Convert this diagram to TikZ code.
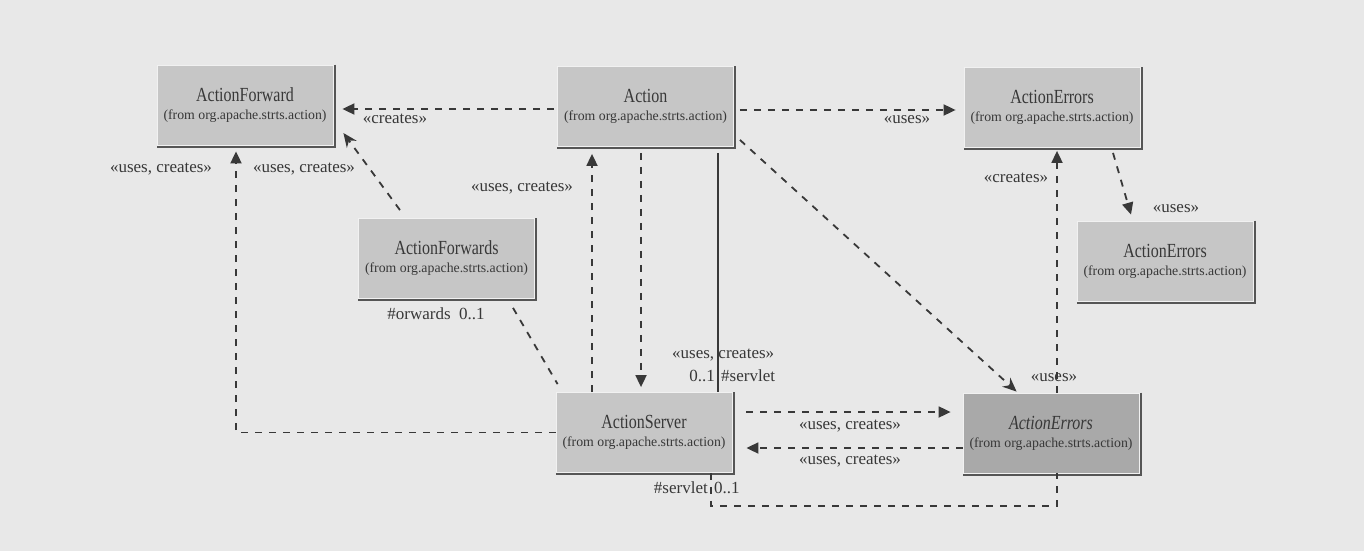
\documentclass[tikz,border=0pt]{standalone}
\usepackage{fontspec}
\setmainfont{Liberation Serif}
\newfontfamily\titlefam[FakeStretch=0.8]{Liberation Serif}
\usetikzlibrary{arrows.meta}
\definecolor{bg}{HTML}{E8E8E8}
\definecolor{boxfill}{HTML}{C6C6C6}
\definecolor{boxdark}{HTML}{A9A9A9}
\definecolor{ink}{HTML}{383838}
\definecolor{shadowcol}{HTML}{555555}
\newcommand{\boxtitle}[1]{{\titlefam\fontsize{20}{18}\selectfont #1}}
\tikzset{
  umlbox/.style={fill=boxfill, draw=white!75!boxfill, line width=0.8pt,
    minimum width=176pt, minimum height=80pt, inner sep=0pt, align=center,
    text=ink, font=\fontsize{13.8}{18}\selectfont},
  darkbox/.style={umlbox, fill=boxdark},
  dep/.style={draw=ink, line width=1.8pt, dash pattern=on 7pt off 7pt,
    -{Triangle[length=12pt,width=11pt]}},
  depdiag/.style={draw=ink, line width=1.8pt, dash pattern=on 7pt off 7pt,
    -{Stealth[length=14pt,width=12pt]}},
  plainline/.style={draw=ink, line width=1.8pt, dash pattern=on 7pt off 7pt},
  solidline/.style={draw=ink, line width=1.6pt},
  lbl/.style={text=ink, font=\fontsize{17}{20}\selectfont, inner sep=0pt},
  boxshadow/.style={draw=shadowcol, line width=1.8pt},
}
\begin{document}
\begin{tikzpicture}[x=1pt,y=-1pt]
\fill[bg] (0,0) rectangle (1364,551);
\useasboundingbox (0,0) rectangle (1364,551);

\node[umlbox] (af)  at (245,105)   {\boxtitle{ActionForward}\\(from org.apache.strts.action)};
\node[umlbox] (a)   at (645.5,106.5) {\boxtitle{Action}\\(from org.apache.strts.action)};
\node[umlbox] (ae1) at (1052,107.5) {\boxtitle{ActionErrors}\\(from org.apache.strts.action)};
\node[umlbox] (ae2) at (1165,261)  {\boxtitle{ActionErrors}\\(from org.apache.strts.action)};
\node[umlbox] (afs) at (446.5,258.5) {\boxtitle{ActionForwards}\\(from org.apache.strts.action)};
\node[umlbox] (as)  at (644,432.5) {\boxtitle{ActionServer}\\(from org.apache.strts.action)};
\node[darkbox] (aei) at (1051,433) {\boxtitle{\itshape ActionErrors}\\(from org.apache.strts.action)};

\foreach \n in {af,a,ae1,ae2,afs,as,aei}
  \draw[boxshadow] ([xshift=1.3pt]\n.north east) -- ([xshift=1.3pt,yshift=-1.3pt]\n.south east) -- ([yshift=-1.3pt]\n.south west);

% Action -> ActionForward
\draw[dep, shorten <=3pt, shorten >=9pt] ([yshift=-2.5pt]a.west) -- ([yshift=-2.5pt]a.west -| af.east);
\node[lbl] (l1) at (395,119) {«creates»};
% Action -> ActionErrors
\draw[dep, shorten <=6pt, shorten >=8pt] ([yshift=-3.5pt]a.east) -- ([yshift=-3.5pt]a.east -| ae1.west);
\node[lbl] (l2) at (907,120) {«uses»};
% ActionForwards -> ActionForward
\draw[depdiag] ([xshift=-46.5pt,yshift=8pt]afs.north) -- ([xshift=10pt,yshift=-28pt]af.east);
\node[lbl] (l3) at (304,169) {«uses, creates»};
% ActionServer -> ActionForward
\draw[dep, shorten >=6pt] (as.west) -| ([xshift=-9pt]af.south);
\node[lbl] (l4) at (161,169) {«uses, creates»};
% ActionServer -> Action
\draw[dep, shorten >=7pt] ([xshift=-52pt]as.north) -- ([xshift=-52pt]as.north |- a.south);
\node[lbl] (l5) at (522,188) {«uses, creates»};
% Action -> ActionServer
\draw[dep, shorten <=6pt, shorten >=5pt] ([xshift=-4.5pt]a.south) -- ([xshift=-4.5pt]a.south |- as.north);
% Action -- ActionServer association
\draw[solidline, shorten <=6pt] ([xshift=72.5pt]a.south) -- ([xshift=72.5pt]a.south |- as.north);
\node[lbl, anchor=west] (l6) at (672,355) {«uses, creates»};
\node[lbl, anchor=east] (l7) at (715,376) {0..1};
\node[lbl, anchor=west] (l8) at (721,376) {\#servlet};
% Action -> ActionErrors (italic)
\draw[depdiag] ([xshift=6pt,yshift=7pt]a.south east) -- ([xshift=54pt,yshift=1pt]aei.north west);
% ActionServer -> ActionErrors italic
\draw[dep, shorten <=14pt, shorten >=12pt] ([yshift=20.5pt]as.east) -- ([yshift=20.5pt]as.east -| aei.west);
\node[lbl] (l9) at (850,426) {«uses, creates»};
% ActionErrors italic -> ActionServer
\draw[dep, shorten >=14pt] ([yshift=-15pt]aei.west) -- ([yshift=-15pt]aei.west -| as.east);
\node[lbl] (l10) at (850,461) {«uses, creates»};
% ActionErrors italic -> ActionErrors top
\draw[dep, shorten >=3pt] ([xshift=6pt]aei.north) -- ([xshift=6pt]aei.north |- ae1.south);
\node[lbl] (l11) at (1016,178) {«creates»};
\node[lbl] (l12) at (1054,378) {«uses»};
% ActionErrors top -> ActionErrors right
\draw[dep] ([xshift=61pt,yshift=-5pt]ae1.south) -- ([xshift=-34pt,yshift=6pt]ae2.north);
\node[lbl] (l13) at (1176,209) {«uses»};
% ActionForwards -- ActionServer
\draw[plainline] ([xshift=66.5pt,yshift=-9pt]afs.south) -- ([xshift=2pt,yshift=8pt]as.north west);
\node[lbl] (l14) at (436,314) {\#orwards\ \ 0..1};
% ActionServer -- ActionErrors italic (bottom)
\draw[plainline] ([xshift=67pt]as.south) -- ++(0,33) -| ([xshift=6pt]aei.south);
\node[lbl, anchor=east] (l15) at (708,488) {\#servlet};
\node[lbl, anchor=west] (l16) at (714,488) {0..1};
\end{tikzpicture}
\end{document}
